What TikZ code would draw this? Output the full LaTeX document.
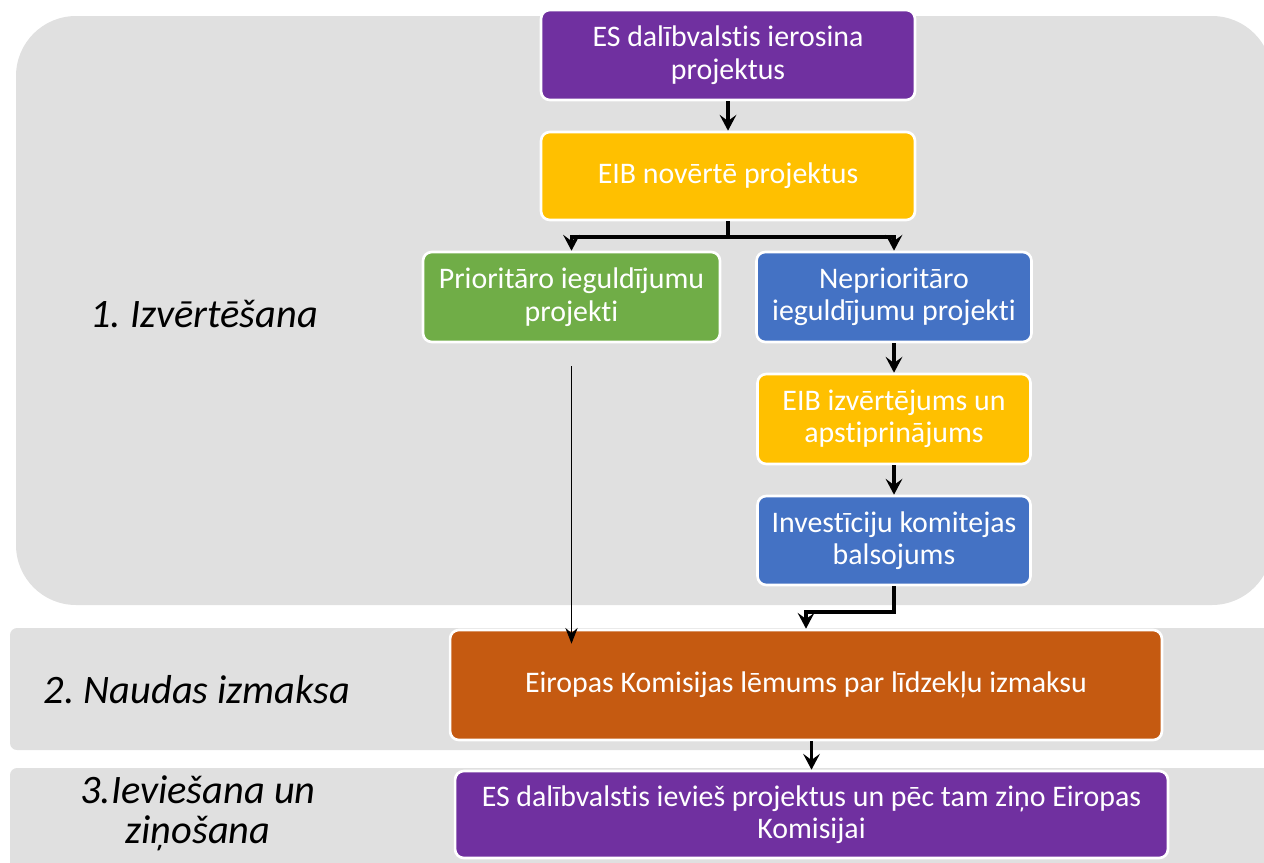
\documentclass[tikz,border=0pt]{standalone}
\usepackage{fontspec}
\setmainfont{Carlito}[Ligatures=NoCommon]
\usetikzlibrary{arrows.meta}
\definecolor{panelgray}{RGB}{224,224,224}
\definecolor{lilla}{RGB}{112,48,160}
\definecolor{dzelt}{RGB}{255,192,0}
\definecolor{zala}{RGB}{112,173,71}
\definecolor{zila}{RGB}{68,114,196}
\definecolor{oranza}{RGB}{197,90,17}
\frenchspacing
\begin{document}
\begin{tikzpicture}[x=0.02cm,y=-0.02cm,
	panel/.style={fill=panelgray},
	box/.style={draw=white,line width=1.5pt,rounded corners=5pt,text=white,align=center,inner sep=0pt,
		font=\fontsize{17}{18.5}\selectfont},
	stage/.style={align=center,font=\fontsize{23}{23}\selectfont\itshape},
	arr/.style={line width=1.8pt,-{Stealth[length=9pt,width=9.5pt,inset=3.5pt]}},
	thinarr/.style={line width=0.7pt,-{Stealth[length=9pt,width=7pt,inset=3pt]}}]
	\useasboundingbox (0,0) rectangle (1264,862);
	\fill[panel,rounded corners=1.2cm] (16,16) rectangle (1272,605);
	\fill[panel,rounded corners=4pt] (10,628) rectangle (1280,750);
	\fill[panel,rounded corners=4pt] (10,768) rectangle (1280,880);
	\node[stage] (izvertesana) at (204,314) {1. Izvērtēšana};
	\node[stage] (izmaksa) at (197,690) {2. Naudas izmaksa};
	\node[stage] (ieviesana) at (198,813) {3.Ieviešana un\\ziņošana};
	\node[box,fill=lilla,minimum width=7.48cm,minimum height=1.8cm] (ierosina) at (728,55) {ES dalībvalstis ierosina\\projektus};
	\node[box,fill=dzelt,minimum width=7.48cm,minimum height=1.76cm] (noverte) at (728,176) {EIB novērtē projektus};
	\node[box,fill=zala,minimum width=5.94cm,minimum height=1.8cm] (prior) at (571.5,297) {Prioritāro ieguldījumu\\projekti};
	\node[box,fill=zila,minimum width=5.5cm,minimum height=1.8cm] (neprior) at (894,297) {Neprioritāro\\ieguldījumu projekti};
	\node[box,fill=dzelt,minimum width=5.46cm,minimum height=1.8cm] (apstipr) at (894,419) {EIB izvērtējums un\\apstiprinājums};
	\node[box,fill=zila,minimum width=5.46cm,minimum height=1.78cm] (balsojums) at (894,540.5) {Investīciju komitejas\\balsojums};
	\node[box,fill=oranza,minimum width=14.24cm,minimum height=2.2cm] (lemums) at (806,685) {Eiropas Komisijas lēmums par līdzekļu izmaksu};
	\node[box,fill=lilla,minimum width=14.26cm,minimum height=1.74cm] (zino) at (811.5,814.5) {ES dalībvalstis ievieš projektus un pēc tam ziņo Eiropas\\Komisijai};
	\coordinate (split) at (728,237);
	\coordinate (bend) at (806,612);
	\draw[arr] (ierosina) -- (noverte);
	\draw[line width=1.8pt] (noverte) -- (split);
	\draw[arr] (split) -| (prior.north);
	\draw[arr] (split) -| (neprior.north);
	\draw[arr] (neprior) -- (apstipr);
	\draw[arr] (apstipr) -- (balsojums);
	\draw[arr] (balsojums.south) |- (bend) -- (bend |- lemums.north);
	\draw[thinarr] ([yshift=-0.46cm]prior.south) -- ([yshift=-0.3cm]prior.south |- lemums.north);
	\draw[arr] (zino.north |- lemums.south) -- (zino.north);
\end{tikzpicture}
\end{document}
